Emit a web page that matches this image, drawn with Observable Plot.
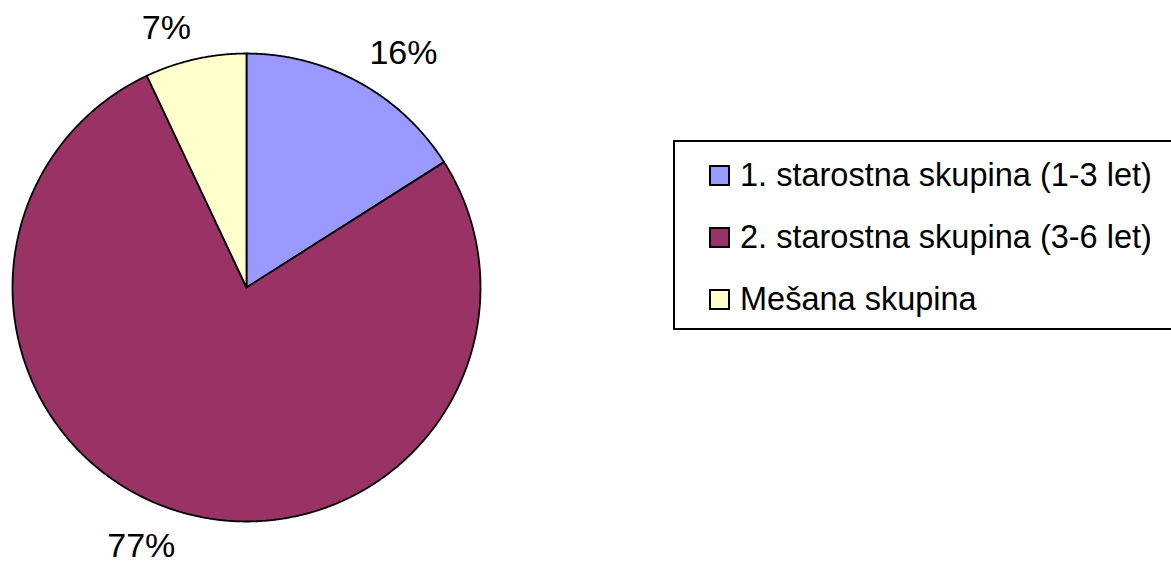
<!DOCTYPE html>
<html>
<head>
<meta charset="utf-8">
<script src="https://cdn.jsdelivr.net/npm/d3@7"></script>
<script src="https://cdn.jsdelivr.net/npm/@observablehq/plot@0.6"></script>
<style>
  html, body { margin: 0; padding: 0; background: #fff; }
  #wrap { position: relative; width: 1171px; height: 561px; overflow: hidden; font-family: "Liberation Sans", Arial, sans-serif; }
  #wrap svg { position: absolute; left: 0; top: 0; }
  #legend { position: absolute; left: 673px; top: 140px; width: 540px; height: 190px; border: 2px solid #000; box-sizing: border-box; background: #fff; }
  .row { height: 62px; display: flex; align-items: center; padding-left: 34px; font-size: 32.5px; color: #000; white-space: nowrap; }
  .row:first-child { margin-top: 2px; }
  .sw { width: 17px; height: 17px; border: 2px solid #000; margin-right: 10px; flex: none; }
</style>
</head>
<body>
<div id="wrap"></div>
<script>
const categories = ["1. starostna skupina (1-3 let)", "2. starostna skupina (3-6 let)", "Mešana skupina"];
const values = [16, 77, 7];
const labels = ["16%", "77%", "7%"];
const colors = ["#9999FF", "#993366", "#FFFFCC"];

const arcs = d3.pie().sort(null).value(d => d)(values);

// polygon points for each slice (unit circle, y up), computed from the pie angles
const slicePts = [];
arcs.forEach((a, i) => {
  const n = Math.max(2, Math.ceil((a.endAngle - a.startAngle) / 0.005));
  slicePts.push({cat: categories[i], x: 0, y: 0});
  for (let k = 0; k <= n; k++) {
    const t = a.startAngle + (a.endAngle - a.startAngle) * k / n;
    slicePts.push({cat: categories[i], x: Math.sin(t), y: Math.cos(t)});
  }
  slicePts.push({cat: categories[i], x: 0, y: 0});
});

// labels sit just outside the rim at each slice's mid-angle, anchored away from the pie
const labelR = 1.09;
const labelPts = arcs.map((a, i) => {
  const m = (a.startAngle + a.endAngle) / 2;
  return {
    text: labels[i],
    x: labelR * Math.sin(m),
    y: labelR * Math.cos(m),
    side: Math.sin(m) >= 0 ? "right" : "left",
    vert: Math.cos(m) >= 0 ? "up" : "down"
  };
});

const textMarks = [];
for (const side of ["right", "left"]) {
  for (const vert of ["up", "down"]) {
    const sub = labelPts.filter(d => d.side === side && d.vert === vert);
    if (!sub.length) continue;
    textMarks.push(Plot.text(sub, {
      x: "x", y: "y", text: "text", fontSize: 34, fill: "#000",
      textAnchor: side === "right" ? "start" : "end",
      lineAnchor: vert === "up" ? "bottom" : "top"
    }));
  }
}

const chart = Plot.plot({
  width: 1171,
  height: 561,
  margin: 0,
  style: {fontFamily: "'Liberation Sans', Arial, sans-serif", background: "transparent"},
  x: {domain: [-1, 1], range: [12, 480], axis: null},
  y: {domain: [-1, 1], range: [521, 53], axis: null},
  color: {domain: categories, range: colors},
  marks: [
    Plot.line(slicePts, {x: "x", y: "y", z: "cat", fill: "cat", stroke: "#000", strokeWidth: 1.8, strokeLinejoin: "round"}),
    ...textMarks
  ]
});

const wrap = document.getElementById("wrap");
wrap.appendChild(chart);

const legend = document.createElement("div");
legend.id = "legend";
categories.forEach((c, i) => {
  const row = document.createElement("div");
  row.className = "row";
  const sw = document.createElement("span");
  sw.className = "sw";
  sw.style.background = colors[i];
  const tx = document.createElement("span");
  tx.textContent = c;
  row.appendChild(sw);
  row.appendChild(tx);
  legend.appendChild(row);
});
wrap.appendChild(legend);
</script>
</body>
</html>
